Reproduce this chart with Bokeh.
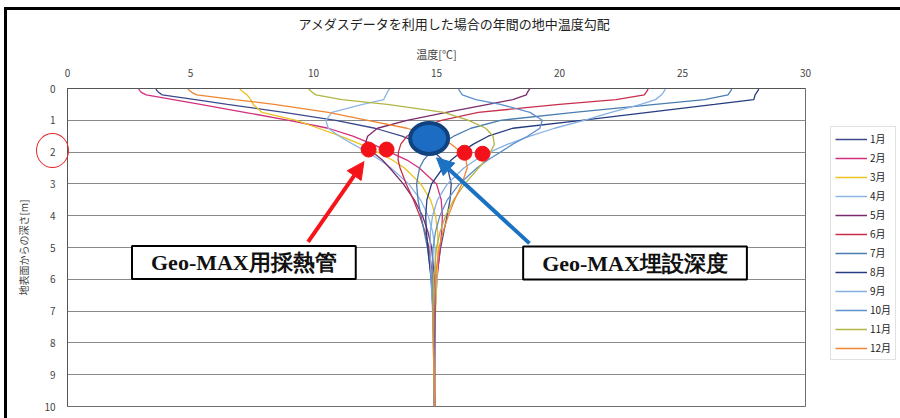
from bokeh.plotting import figure
from bokeh.models import (Range1d, FixedTicker, Legend, LegendItem, Label, Arrow,
                          NormalHead, InlineStyleSheet)
from bokeh.embed import file_html
from bokeh.resources import INLINE

# ---------------- data ----------------
depth = [0, 0.05, 0.12, 0.2, 0.35, 0.5, 0.75, 1.0, 1.25, 1.5, 1.75, 2.0, 2.25, 2.5,
         3.0, 3.5, 4.0, 4.5, 5.0, 6.0, 7.0, 8.0, 10.0]

months = ["1月", "2月", "3月", "4月", "5月", "6月", "7月", "8月", "9月", "10月", "11月", "12月"]

t_jan = [3.6, 3.62, 3.7, 3.85, 5.2, 6.5, 8.8, 10.9, 12.5, 13.6, 14.4, 14.9, 15.25, 15.45,
         15.6, 15.55, 15.43, 15.3, 15.17, 14.99, 14.92, 14.9, 14.92]
t_feb = [2.9, 2.92, 3.0, 3.2, 4.3, 5.4, 7.2, 9.0, 10.6, 11.6, 12.4, 13.1, 13.8, 14.3,
         15.0, 15.19, 15.24, 15.21, 15.15, 15.02, 14.94, 14.91, 14.92]
t_mar = [7.0, 7.05, 7.15, 7.3, 7.45, 7.55, 7.9, 9.3, 10.2, 11.1, 11.9, 12.6, 13.2, 13.7,
         14.36, 14.76, 14.96, 15.05, 15.06, 15.02, 14.96, 14.92, 14.92]
t_apr = [13.1, 13.05, 13.0, 12.95, 12.85, 12.0, 10.75, 10.5, 10.6, 11.05, 11.6, 12.2, 12.7, 13.15,
         13.87, 14.35, 14.66, 14.84, 14.94, 14.98, 14.95, 14.93, 14.92]
t_may = [18.8, 18.75, 18.7, 18.65, 18.1, 17.1, 15.4, 13.8, 12.6, 12.2, 12.1, 12.4, 12.8, 13.1,
         13.65, 14.1, 14.43, 14.65, 14.8, 14.92, 14.94, 14.93, 14.92]
t_jun = [23.6, 23.58, 23.52, 23.45, 22.3, 20.0, 16.7, 15.2, 14.3, 13.8, 13.55, 13.45, 13.44, 13.52,
         13.77, 14.06, 14.32, 14.53, 14.69, 14.86, 14.91, 14.92, 14.92]
t_jul = [27.0, 26.98, 26.92, 26.85, 25.9, 23.9, 20.6, 17.6, 16.4, 15.7, 15.18, 14.76, 14.48, 14.31,
         14.19, 14.25, 14.37, 14.5, 14.63, 14.8, 14.88, 14.91, 14.92]
t_aug = [28.1, 28.08, 28.02, 27.95, 27.9, 26.3, 23.6, 20.9, 18.1, 17.1, 16.5, 16.0, 15.6, 15.26,
         14.8, 14.61, 14.56, 14.59, 14.65, 14.78, 14.86, 14.89, 14.92]
t_sep = [24.3, 24.28, 24.22, 24.15, 23.9, 23.3, 22.1, 21.0, 19.8, 18.8, 17.9, 17.17, 16.59, 16.11,
         15.44, 15.04, 14.84, 14.75, 14.74, 14.78, 14.84, 14.88, 14.92]
t_oct = [15.9, 15.92, 15.98, 16.05, 16.6, 17.6, 18.8, 19.3, 19.2, 18.7, 18.1, 17.6, 17.09, 16.64,
         15.93, 15.44, 15.14, 14.96, 14.86, 14.82, 14.85, 14.87, 14.92]
t_nov = [9.8, 9.85, 9.95, 10.1, 11.15, 13.0, 15.3, 16.3, 17.0, 17.3, 17.35, 17.2, 17.0, 16.71,
         16.15, 15.7, 15.37, 15.15, 15.0, 14.88, 14.86, 14.87, 14.92]
t_dec = [4.9, 4.93, 5.05, 5.25, 6.8, 8.4, 10.6, 12.2, 13.8, 14.9, 15.6, 16.0, 16.2, 16.25,
         16.03, 15.74, 15.48, 15.27, 15.11, 14.94, 14.89, 14.88, 14.92]

series = [t_jan, t_feb, t_mar, t_apr, t_may, t_jun, t_jul, t_aug, t_sep, t_oct, t_nov, t_dec]

colors = ["#3D4A8E", "#D3307C", "#EBC21E", "#8DB6E6", "#7B2A6C", "#C92E4C",
          "#4A7DB0", "#263B80", "#86B0E2", "#5E90CC", "#B2B544", "#EE8632"]

x_ticks = [0, 5, 10, 15, 20, 25, 30]
y_ticks = [0, 1, 2, 3, 4, 5, 6, 7, 8, 9, 10]

# pipe markers (Geo-MAX) and burial point
pipe_temp = [12.24, 12.97, 16.14, 16.87]
pipe_depth = [1.92, 1.92, 2.02, 2.05]
bury_temp = [14.7]
bury_depth = [1.57]

JP = "Noto Sans CJK JP"

# ---------------- figure ----------------
p = figure(frame_width=738, frame_height=318, output_backend="svg", toolbar_location=None,
           x_range=Range1d(0, 30), y_range=Range1d(10, 0),
           x_axis_location="above",
           min_border_left=67, min_border_right=95, min_border_top=88, min_border_bottom=12,
           background_fill_color="white", border_fill_color="white")

p.title.text = "アメダスデータを利用した場合の年間の地中温度勾配"
p.title.align = "left"
p.title.text_font = JP
p.title.text_font_style = "normal"
p.title.text_font_size = "13px"
p.title.text_color = "#222222"
p.title.standoff = 20
p.title.offset = 231

p.outline_line_color = "#6E6E6E"
p.outline_line_width = 1

xa = p.xaxis[0]
xa.ticker = FixedTicker(ticks=x_ticks)
xa.axis_label = "温度[℃]"
xa.axis_label_text_font = JP
xa.axis_label_text_font_style = "normal"
xa.axis_label_text_font_size = "11px"
xa.axis_label_standoff = 4
xa.major_label_text_font = JP
xa.major_label_text_font_size = "10px"
xa.major_label_standoff = 12
xa.major_tick_out = 0
xa.major_tick_in = 0
xa.minor_tick_out = 0
xa.minor_tick_in = 0
xa.axis_line_color = "#555555"

ya = p.yaxis[0]
ya.ticker = FixedTicker(ticks=y_ticks)
ya.axis_label = "地表面からの深さ[m]"
ya.axis_label_text_font = JP
ya.axis_label_text_font_style = "normal"
ya.axis_label_text_font_size = "10px"
ya.axis_label_standoff = 10
ya.major_label_text_font = JP
ya.major_label_text_font_size = "10px"
ya.major_label_standoff = 12
ya.major_tick_out = 0
ya.major_tick_in = 0
ya.minor_tick_out = 0
ya.minor_tick_in = 0
ya.axis_line_color = "#555555"

p.xgrid.visible = False
p.ygrid.grid_line_color = "#8A8A8A"
p.ygrid.grid_line_width = 1

items = []
for name, temps, col in zip(months, series, colors):
    r = p.line(x=temps, y=depth, line_color=col, line_width=1.3)
    items.append(LegendItem(label=name, renderers=[r]))

legend = Legend(items=items, location=(25, 46), orientation="vertical",
                label_text_font=JP, label_text_font_size="10px", label_text_color="#222222",
                glyph_width=32, glyph_height=12, label_height=12, spacing=4,
                padding=4, margin=0, label_standoff=3,
                border_line_color="#C4C4C4", border_line_width=1,
                background_fill_color="white", background_fill_alpha=1.0)
p.add_layout(legend, "right")

# ---------------- annotations ----------------
p.scatter(x=pipe_temp, y=pipe_depth, size=15, fill_color="#F3121A", line_color="#F3121A")
p.ellipse(x=bury_temp, y=bury_depth, width=38, height=31, width_units="screen",
          height_units="screen", fill_color="#1D6CC3", line_color="#0F427F", line_width=4)

red = "#F5141A"
blue = "#1C72C2"
p.add_layout(Arrow(end=NormalHead(size=17, fill_color=red, line_color=red, line_width=1),
                   x_start=9.78, y_start=4.82, x_end=12.05, y_end=2.3,
                   line_color=red, line_width=4))
p.add_layout(Arrow(end=NormalHead(size=17, fill_color=blue, line_color=blue, line_width=1),
                   x_start=18.78, y_start=4.87, x_end=15.0, y_end=2.18,
                   line_color=blue, line_width=4))

box_kw = dict(text_align="center", text_baseline="middle",
              text_font="Liberation Serif", text_font_style="bold",
              text_font_size="22px", text_color="#111111",
              background_fill_color="white", background_fill_alpha=1.0,
              border_line_color="black", border_line_width=2, padding=(19, 4))
p.add_layout(Label(x=7.17, y=5.47, text="Geo-MAX用採熱管", **box_kw))
p.add_layout(Label(x=23.07, y=5.49, text="Geo-MAX埋設深度", **box_kw))

# page decorations: thick outer frame lines and red circle around the "2" tick label
css = InlineStyleSheet(css="""
:host { position: relative; }
:host::before { content: ""; position: absolute; left: 4px; top: 7px; right: 0px; bottom: 0px;
  border-left: 3px solid #000; border-top: 3px solid #000; box-sizing: border-box;
  pointer-events: none; z-index: 5; }
:host::after { content: ""; position: absolute; left: 36px; top: 133px; width: 33px; height: 35px;
  border: 1.3px solid #E8262A; border-radius: 50%; box-sizing: border-box;
  pointer-events: none; z-index: 5; }
""")
p.stylesheets = [css]

open("out.html", "w").write(file_html(p, INLINE))
